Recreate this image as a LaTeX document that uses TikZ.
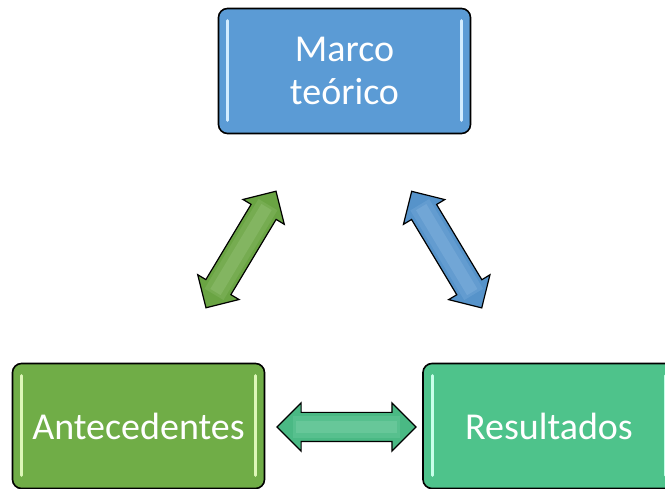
\documentclass[tikz,border=0pt]{standalone}
\usepackage{fontspec}
\setmainfont{Carlito}
\usetikzlibrary{shapes.arrows,calc}
\definecolor{azul}{HTML}{5B9BD5}
\definecolor{verde}{HTML}{70AD47}
\definecolor{menta}{HTML}{4EC38B}
\definecolor{luzazul}{HTML}{D2ECFF}
\definecolor{luzverde}{HTML}{DDF7B8}
\definecolor{luzmenta}{HTML}{C8FFEA}
\begin{document}
\begin{tikzpicture}[x=1pt,y=-1pt,
  caja/.style={draw=black,line width=1.6pt,rounded corners=9pt,minimum width=252pt,minimum height=125pt,
    text=white,font=\fontsize{38}{43}\selectfont,align=center},
  flecha/.style={double arrow,draw=black,line width=1.2pt,minimum height=136pt,inner xsep=0pt,inner ysep=14pt,
    double arrow head extend=9.5pt,double arrow tip angle=90,fill=#1!95!black}]
\useasboundingbox (0,0) rectangle (665,489);
\clip (0,0) rectangle (665,489);
\node[caja,fill=azul] (marco) at (344.5,71) {Marco\\teórico};
\node[caja,fill=verde] (antec) at (138.5,426) {Antecedentes};
\node[caja,fill=menta] (result) at (549,426) {Resultados};
\foreach \n/\c in {marco/luzazul,antec/luzverde,result/luzmenta}{
  \draw[\c,line width=3pt,line cap=round] ([xshift=10pt,yshift=-13pt]\n.north west) -- ([xshift=10pt,yshift=14pt]\n.south west);
  \draw[\c,line width=3pt,line cap=round] ([xshift=-10pt,yshift=-13pt]\n.north east) -- ([xshift=-10pt,yshift=14pt]\n.south east);
}
\node[flecha=verde,rotate=59] (flechaMA) at (241,249.5) {};
\node[flecha=azul,rotate=121] (flechaMR) at (446.7,249.6) {};
\node[flecha=menta,minimum height=139pt] (flechaAR) at (346.5,427) {};
\foreach \f/\c in {flechaMA/verde,flechaMR/azul,flechaAR/menta}{
  \draw[\c!80!white,line width=22pt,opacity=.35] ($(\f.tip 1)!.12!(\f.tip 2)$) -- ($(\f.tip 2)!.12!(\f.tip 1)$);
  \draw[\c!65!white,line width=12pt,opacity=.3] ($(\f.tip 1)!.14!(\f.tip 2)$) -- ($(\f.tip 2)!.14!(\f.tip 1)$);
}
\end{tikzpicture}
\end{document}
